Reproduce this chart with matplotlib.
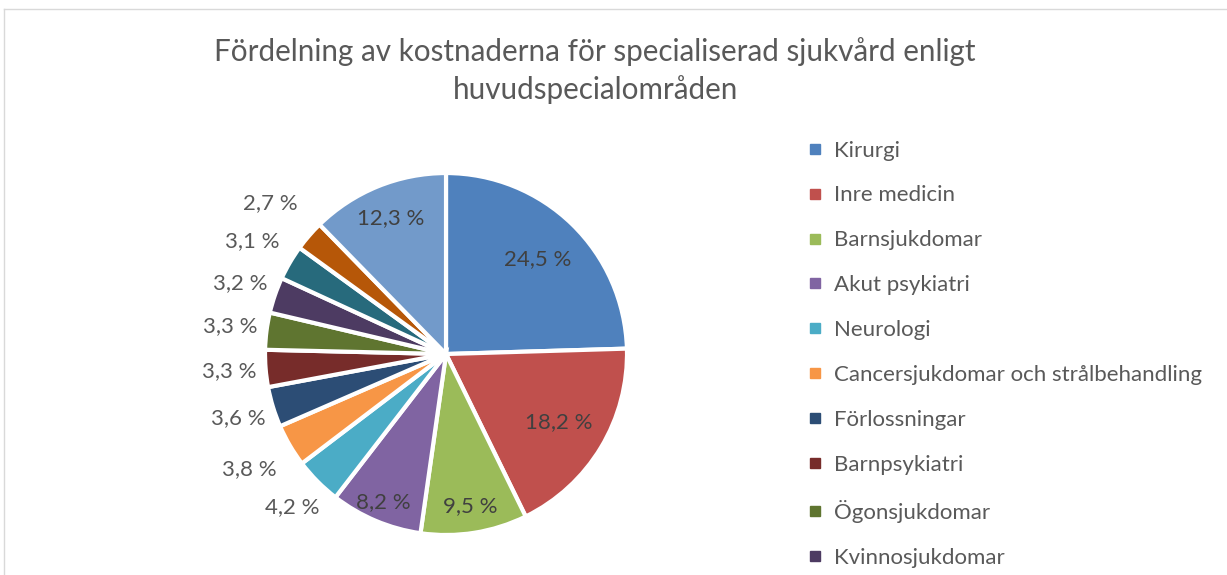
import numpy as np
import matplotlib
matplotlib.use('Agg')
import matplotlib.pyplot as plt
from matplotlib.lines import Line2D

plt.rcParams['font.family'] = ['Lato', 'DejaVu Sans']

# data (13 slices, legend only shows first 10)
categories = ['Kirurgi', 'Inre medicin', 'Barnsjukdomar', 'Akut psykiatri', 'Neurologi',
              'Cancersjukdomar och strålbehandling', 'Förlossningar', 'Barnpsykiatri',
              'Ögonsjukdomar', 'Kvinnosjukdomar']
shares = [24.5, 18.2, 9.5, 8.2, 4.2, 3.8, 3.6, 3.3, 3.3, 3.2, 3.1, 2.7, 12.3]
pct_labels = ['24,5 %', '18,2 %', '9,5 %', '8,2 %', '4,2 %', '3,8 %', '3,6 %',
              '3,3 %', '3,3 %', '3,2 %', '3,1 %', '2,7 %', '12,3 %']

colors = ['#4F81BD', '#C0504D', '#9BBB59', '#8064A2', '#4BACC6', '#F79646', '#2C4D75',
          '#772C2A', '#5F7530', '#4D3B62', '#276A7C', '#B65708', '#729ACA']
# radial position of each label (fraction of radius)
label_r = [0.73, 0.73, 0.85, 0.89, 1.2, 1.26, 1.2, 1.2, 1.2, 1.2, 1.24, 1.28, 0.81]

fig = plt.figure(figsize=(12.27, 5.75), dpi=100)

ax = fig.add_axes([0.216, 0.0695, 0.295, 0.6296])
wedges, _ = ax.pie(shares, colors=colors, startangle=90, counterclock=False,
                   wedgeprops=dict(edgecolor='white', linewidth=3))
ax.set_xlim(-1, 1)
ax.set_ylim(-1, 1)
ax.set_aspect('equal')
ax.axis('off')

for w, lab, r in zip(wedges, pct_labels, label_r):
    ang = np.deg2rad((w.theta1 + w.theta2) / 2)
    col = '#404040' if r < 1 else '#595959'
    ax.text(r * np.cos(ang), r * np.sin(ang), lab, ha='center', va='center',
            fontsize=16, color=col)

fig.text(0.485, 1 - 52 / 575, 'Fördelning av kostnaderna för specialiserad sjukvård enligt',
         ha='center', va='center', fontsize=21.3, color='#595959')
fig.text(0.485, 1 - 90 / 575, 'huvudspecialområden',
         ha='center', va='center', fontsize=21.3, color='#595959')

handles = [Line2D([], [], marker='s', linestyle='none', markersize=7,
                  markerfacecolor=c, markeredgecolor=c) for c in colors[:10]]
fig.legend(handles, categories, loc='upper left', bbox_to_anchor=(0.651, 0.771),
           frameon=False, fontsize=16, labelcolor='#595959', handlelength=0.7,
           handletextpad=0.5, labelspacing=1.12, borderaxespad=0)

# chart frame (only left and top visible)
fig.add_artist(Line2D([4 / 1227, 4 / 1227], [0, 1 - 9 / 575], color='#D9D9D9', lw=1))
fig.add_artist(Line2D([4 / 1227, 1], [1 - 9 / 575, 1 - 9 / 575], color='#D9D9D9', lw=1))

fig.savefig('out.png', dpi=100)
